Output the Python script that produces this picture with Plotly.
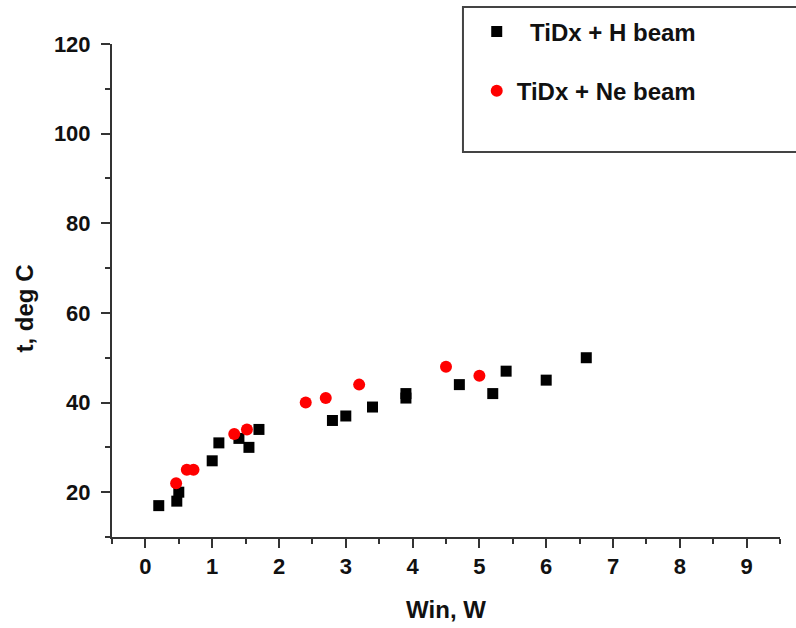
import plotly.graph_objects as go

# Measured temperature vs. input power for two beam types
h_beam_win = [0.2, 0.47, 0.5, 1.0, 1.1, 1.4, 1.55, 1.7, 2.8, 3.0, 3.4, 3.9, 3.9, 4.7, 5.2, 5.4, 6.0, 6.6]
h_beam_t = [17, 18, 20, 27, 31, 32, 30, 34, 36, 37, 39, 41, 42, 44, 42, 47, 45, 50]

ne_beam_win = [0.46, 0.62, 0.72, 1.33, 1.52, 2.4, 2.7, 3.2, 4.5, 5.0]
ne_beam_t = [22, 25, 25, 33, 34, 40, 41, 44, 48, 46]

h_label = "\u00a0\u00a0TiDx + H beam"
ne_label = "TiDx + Ne beam"
x_title = "Win, W"
y_title = "t, deg C"

FONT = "Liberation Sans, Arial, sans-serif"
AXIS_COLOR = "#333333"

fig = go.Figure()
fig.add_trace(go.Scatter(
    x=h_beam_win, y=h_beam_t, mode="markers", name=h_label,
    legendgroup="h",
    marker=dict(symbol="square", size=11, color="#000000", line=dict(width=0)),
))
fig.add_trace(go.Scatter(
    x=ne_beam_win, y=ne_beam_t, mode="markers", name=ne_label,
    legendgroup="ne",
    marker=dict(symbol="circle", size=12, color="#ff0000", line=dict(width=0)),
))

axis_common = dict(
    showline=True, linewidth=2, linecolor=AXIS_COLOR, mirror=False,
    ticks="outside", ticklen=9, tickwidth=2, tickcolor=AXIS_COLOR,
    showgrid=False, zeroline=False,
    tickfont=dict(family=FONT, size=22, color="#111111", weight="bold"),
)

fig.update_xaxes(
    range=[-0.5, 9.5], dtick=1, tick0=0,
    minor=dict(dtick=0.5, ticklen=5, tickwidth=2, tickcolor=AXIS_COLOR, ticks="outside"),
    title=dict(text=x_title, standoff=23,
               font=dict(family=FONT, size=24, color="#111111", weight="bold")),
    **axis_common,
)
fig.update_yaxes(
    range=[10, 120], dtick=20, tick0=0,
    minor=dict(dtick=10, ticklen=5, tickwidth=2, tickcolor=AXIS_COLOR, ticks="outside"),
    ticklabelstandoff=6,
    **axis_common,
)

# Y axis title, placed slightly below the axis midpoint
fig.add_annotation(
    text=y_title, xref="paper", yref="paper", x=-0.131, y=0.4645,
    showarrow=False, textangle=-90, xanchor="center", yanchor="middle",
    font=dict(family=FONT, size=24, color="#111111", weight="bold"),
)

# Frame around the legend
fig.add_shape(
    type="rect", xref="paper", yref="paper",
    x0=0.5254, x1=1.04, y0=0.781, y1=1.075,
    line=dict(color="#444444", width=2), fillcolor="rgba(0,0,0,0)", layer="above",
)

fig.update_layout(
    width=796, height=628,
    margin=dict(l=112, r=16, t=44, b=91, autoexpand=False),
    plot_bgcolor="white", paper_bgcolor="white",
    showlegend=True,
    legend=dict(
        x=0.546, y=1.07, xanchor="left", yanchor="top",
        bgcolor="rgba(0,0,0,0)", borderwidth=0,
        tracegroupgap=25,
        font=dict(family=FONT, size=24, color="#111111", weight="bold"),
    ),
)

fig.write_html("out.html")
